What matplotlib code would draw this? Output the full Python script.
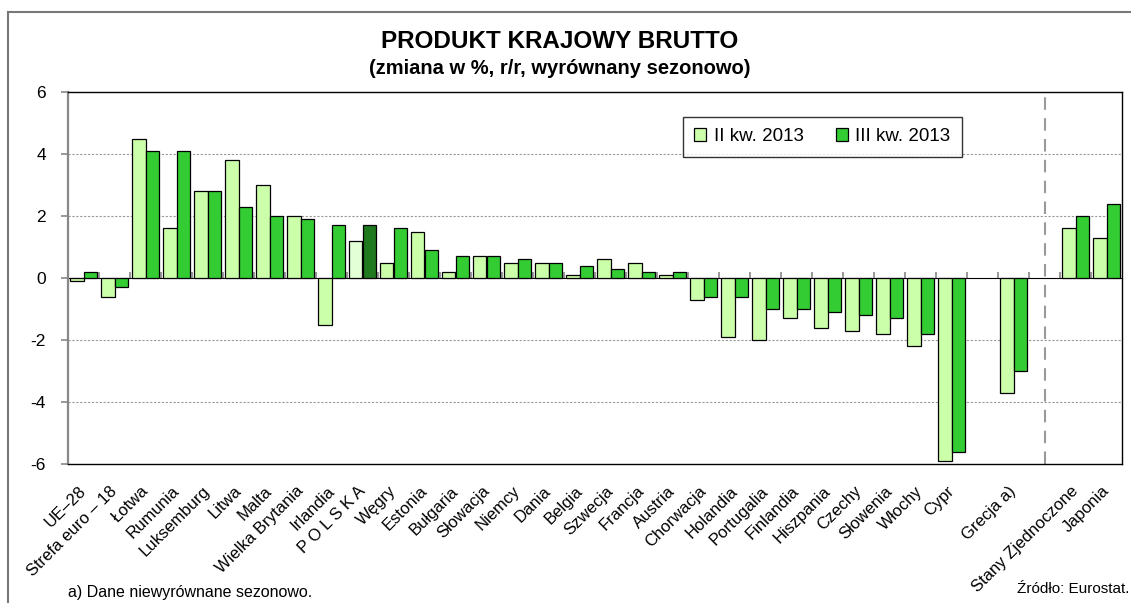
import numpy as np
import matplotlib
matplotlib.use("Agg")
import matplotlib.pyplot as plt
from matplotlib.lines import Line2D
from matplotlib.transforms import ScaledTranslation

plt.rcParams['font.family'] = ['Liberation Sans', 'DejaVu Sans']
plt.rcParams['axes.unicode_minus'] = False

countries = ["UE\u201328", "Strefa euro \u2013 18", "Łotwa", "Rumunia", "Luksemburg", "Litwa",
             "Malta", "Wielka Brytania", "Irlandia", "P O L S K A", "Węgry", "Estonia",
             "Bułgaria", "Słowacja", "Niemcy", "Dania", "Belgia", "Szwecja", "Francja",
             "Austria", "Chorwacja", "Holandia", "Portugalia", "Finlandia", "Hiszpania",
             "Czechy", "Słowenia", "Włochy", "Cypr", "", "Grecja a)", "",
             "Stany Zjednoczone", "Japonia"]

q2_2013 = [-0.1, -0.6, 4.5, 1.6, 2.8, 3.8, 3.0, 2.0, -1.5, 1.2, 0.5, 1.5,
           0.2, 0.7, 0.5, 0.5, 0.1, 0.6, 0.5, 0.1, -0.7, -1.9, -2.0, -1.3, -1.6,
           -1.7, -1.8, -2.2, -5.9, np.nan, -3.7, np.nan, 1.6, 1.3]
q3_2013 = [0.2, -0.3, 4.1, 4.1, 2.8, 2.3, 2.0, 1.9, 1.7, 1.7, 1.6, 0.9,
           0.7, 0.7, 0.6, 0.5, 0.4, 0.3, 0.2, 0.2, -0.6, -0.6, -1.0, -1.0, -1.1,
           -1.2, -1.3, -1.8, -5.6, np.nan, -3.0, np.nan, 2.0, 2.4]

highlight = "P O L S K A"
separator = 31  # position of dashed line (between EU and non-EU)

light = "#CCFFAA"
dark = "#33CC33"
light_hl = "#E2FFD6"
dark_hl = "#1F7A1F"

fig = plt.figure(figsize=(11.31, 6.03), dpi=100)
ax = fig.add_axes([68 / 1131, 1 - 464 / 603, (1122 - 68) / 1131, (464 - 92) / 603])

x = np.arange(len(countries))
w = 0.42
c2 = [light_hl if c == highlight else light for c in countries]
c3 = [dark_hl if c == highlight else dark for c in countries]
ax.bar(x - w / 2, q2_2013, w, color=c2, edgecolor="black", linewidth=0.9,
       label="II kw. 2013", zorder=3)
ax.bar(x + w / 2, q3_2013, w, color=c3, edgecolor="black", linewidth=0.9,
       label="III kw. 2013", zorder=3)

ax.set_xlim(-0.5, len(countries) - 0.5)
ax.set_ylim(-6, 6)
ax.set_yticks(np.arange(-6, 7, 2))
ax.tick_params(axis="y", direction="out", length=5, color="#888888", width=1.2,
               labelsize=12.5, pad=11)
for yv in [-4, -2, 2, 4]:
    ax.axhline(yv, color="#999999", linestyle=(0, (2, 1.5)), linewidth=0.8, zorder=1)

ax.set_xticks(x)
ax.set_xticklabels(countries, rotation=45, ha="right", rotation_mode="anchor",
                   fontsize=12)
ax.tick_params(axis="x", length=0, pad=6)
shift = ScaledTranslation(-0.05, -0.11, fig.dpi_scale_trans)
for lbl in ax.get_xticklabels():
    lbl.set_transform(lbl.get_transform() + shift)

for s in ["top", "right", "bottom"]:
    ax.spines[s].set_color("black")
    ax.spines[s].set_linewidth(1.0)
ax.spines["left"].set_color("#888888")
ax.spines["left"].set_linewidth(1.6)

# zero axis with category boundary ticks
zero = ax.secondary_xaxis(0.5)
zero.set_xticks(np.arange(0.5, len(countries) - 0.5, 1))
zero.set_xticklabels([])
zero.tick_params(length=4, width=1.2, color="#888888", direction="out")
zero.spines["bottom"].set_color("#888888")
zero.spines["bottom"].set_linewidth(2)

ax.axvline(separator, color="#999999", linestyle=(0, (6, 4)), linewidth=1.5, zorder=2)

leg = ax.legend(ncol=2, loc="upper left", bbox_to_anchor=(683 / 1131, 1 - 117 / 603),
                bbox_transform=fig.transFigure, fontsize=13.5, frameon=True,
                fancybox=False, edgecolor="black", handlelength=0.65,
                handleheight=0.65, handletextpad=0.4, columnspacing=1.7,
                borderpad=0.6, borderaxespad=0)
leg.get_frame().set_linewidth(1.0)
leg.set_zorder(5)

fig.text(560 / 1131, 1 - 41 / 603, "PRODUKT KRAJOWY BRUTTO", ha="center", va="center",
         fontsize=17.5, fontweight="bold")
fig.text(560 / 1131, 1 - 68 / 603, "(zmiana w %, r/r, wyrównany sezonowo)",
         ha="center", va="center", fontsize=14.5, fontweight="bold")

fig.text(68 / 1131, 1 - 592 / 603, "a) Dane niewyrównane sezonowo.", ha="left",
         va="center", fontsize=11.5)
fig.text(1129 / 1131, 1 - 589 / 603, "Źródło: Eurostat.", ha="right", va="center",
         fontsize=11)

# outer frame of the chart
fig.add_artist(Line2D([8 / 1131, 1.01], [1 - 12 / 603] * 2, color="#777777", lw=1.5))
fig.add_artist(Line2D([8 / 1131] * 2, [-0.01, 1 - 12 / 603], color="#777777", lw=1.5))

fig.savefig("out.png", dpi=100)
